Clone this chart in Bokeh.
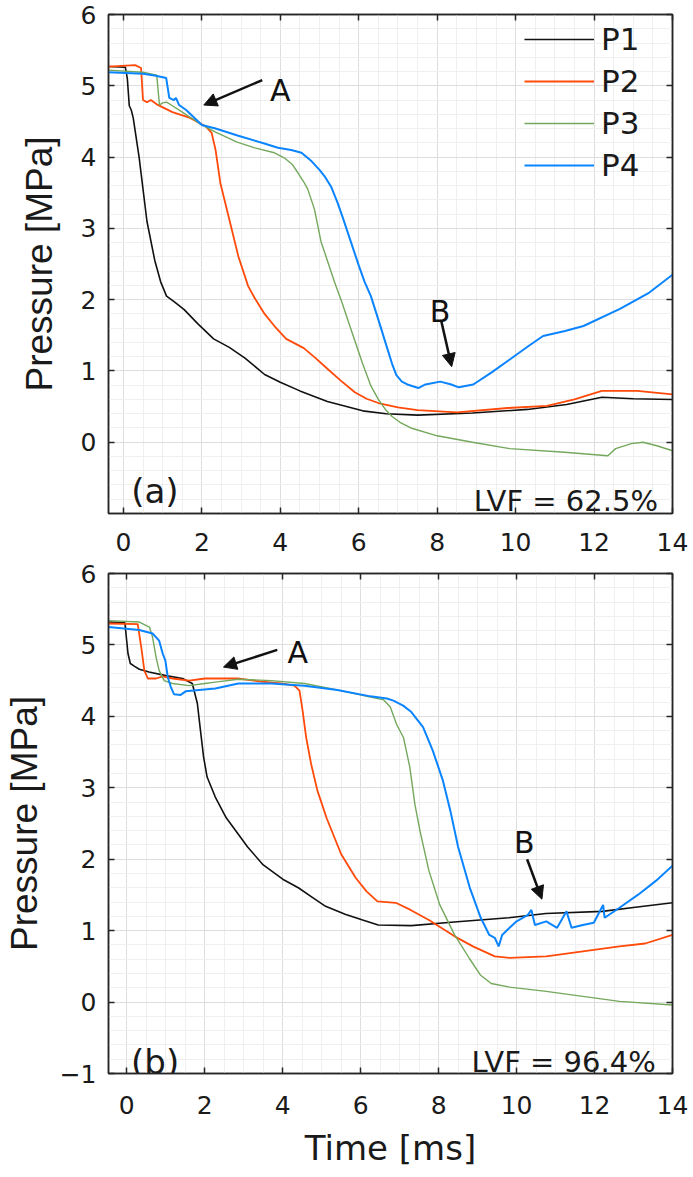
from bokeh.plotting import figure
from bokeh.models import (Range1d, FixedTicker, LinearAxis, Legend, LegendItem,
                          Arrow, NormalHead)
from bokeh.layouts import column
from bokeh.embed import file_html
from bokeh.resources import INLINE
from bokeh.core.properties import value

# ---------------- data: panel (a), LVF = 62.5% ----------------
a_t_p1 = [-0.38, 0.05, 0.1, 0.15, 0.2, 0.25, 0.4, 0.6, 0.8, 0.95, 1.1, 1.3, 1.55, 1.9, 2.3,
          2.7, 3.1, 3.6, 4.0, 4.5, 5.2, 6.1, 6.7, 7.5, 8.9, 10.3, 11.3, 12.2, 13.0, 14.0]
a_p1 = [5.27, 5.26, 5.1, 4.72, 4.66, 4.55, 4.0, 3.1, 2.55, 2.25, 2.05, 1.97, 1.86, 1.66, 1.45,
        1.33, 1.18, 0.95, 0.84, 0.72, 0.57, 0.44, 0.40, 0.38, 0.41, 0.46, 0.53, 0.63, 0.61, 0.60]

a_t_p2 = [-0.38, 0.3, 0.45, 0.5, 0.6, 0.7, 0.85, 1.25, 1.7, 2.1, 2.25, 2.35, 2.47, 2.68, 2.93,
          3.18, 3.35, 3.6, 3.85, 4.15, 4.6, 4.9, 5.2, 5.55, 5.9, 6.2, 6.5, 7.0, 7.5, 8.5, 9.8,
          10.8, 11.5, 12.2, 13.1, 14.0]
a_p2 = [5.27, 5.29, 5.25, 4.8, 4.77, 4.8, 4.74, 4.63, 4.55, 4.43, 4.34, 4.1, 3.64, 3.17, 2.61,
        2.19, 2.02, 1.80, 1.63, 1.45, 1.32, 1.18, 1.03, 0.86, 0.70, 0.61, 0.55, 0.49, 0.45, 0.42,
        0.48, 0.51, 0.60, 0.72, 0.72, 0.67]

a_t_p3 = [-0.38, 0.5, 0.85, 0.92, 1.0, 1.1, 1.25, 1.5, 2.0, 2.35, 2.9, 3.35, 3.85, 4.1, 4.3,
          4.45, 4.6, 4.7, 4.87, 5.04, 5.2, 5.38, 5.56, 5.75, 5.94, 6.1, 6.31, 6.5, 6.68, 6.85,
          7.05, 7.33, 8.0, 8.9, 9.85, 11.25, 12.35, 12.55, 12.95, 13.25, 13.6, 14.0]
a_p3 = [5.22, 5.19, 5.15, 4.73, 4.76, 4.77, 4.72, 4.63, 4.45, 4.35, 4.21, 4.13, 4.06, 3.99, 3.90,
        3.78, 3.65, 3.55, 3.27, 2.81, 2.55, 2.25, 1.98, 1.67, 1.36, 1.10, 0.79, 0.60, 0.46, 0.36,
        0.28, 0.20, 0.09, 0.0, -0.09, -0.14, -0.19, -0.09, -0.02, 0.0, -0.05, -0.12]

a_t_p4 = [-0.38, 0.5, 0.83, 1.09, 1.17, 1.29, 1.34, 1.42, 1.6, 2.0, 2.35, 2.93, 3.53, 3.94, 4.28,
          4.54, 4.8, 5.0, 5.13, 5.3, 5.46, 5.6, 5.8, 6.0, 6.15, 6.31, 6.5, 6.68, 6.85, 6.96, 7.1,
          7.24, 7.52, 7.7, 8.08, 8.36, 8.55, 8.92, 9.39, 9.85, 10.33, 10.7, 11.26, 11.73, 12.66,
          13.41, 14.0]
a_p4 = [5.19, 5.17, 5.14, 5.11, 4.83, 4.80, 4.83, 4.73, 4.66, 4.45, 4.40, 4.30, 4.20, 4.13, 4.10,
        4.06, 3.94, 3.82, 3.73, 3.58, 3.36, 3.14, 2.81, 2.48, 2.25, 2.05, 1.72, 1.40, 1.10, 0.94,
        0.85, 0.81, 0.76, 0.81, 0.85, 0.81, 0.77, 0.81, 0.98, 1.16, 1.35, 1.49, 1.56, 1.63, 1.87,
        2.10, 2.35]

# ---------------- data: panel (b), LVF = 96.4% ----------------
b_t_p1 = [-0.47, -0.05, 0.03, 0.09, 0.2, 0.32, 0.57, 1.0, 1.43, 1.68, 1.81, 1.89, 1.97, 2.06,
          2.27, 2.55, 3.1, 3.5, 4.0, 4.4, 4.75, 5.1, 5.6, 6.05, 6.45, 7.3, 8.4, 9.8, 10.75, 12.2,
          13.1, 14.0]
b_p1 = [5.32, 5.31, 4.88, 4.74, 4.70, 4.66, 4.62, 4.57, 4.53, 4.46, 4.18, 3.80, 3.43, 3.15,
        2.87, 2.58, 2.17, 1.92, 1.72, 1.60, 1.47, 1.34, 1.23, 1.15, 1.08, 1.07, 1.12, 1.18, 1.24,
        1.27, 1.33, 1.39]

b_t_p2 = [-0.47, 0.28, 0.37, 0.45, 0.54, 0.75, 0.92, 1.17, 1.6, 2.0, 2.45, 2.85, 3.4, 3.96, 4.3,
          4.43, 4.51, 4.6, 4.73, 4.89, 5.13, 5.5, 5.87, 6.15, 6.43, 6.9, 7.28, 7.75, 8.41, 8.88,
          9.44, 9.82, 10.76, 11.7, 12.64, 13.3, 14.0]
b_p2 = [5.30, 5.29, 4.97, 4.64, 4.53, 4.53, 4.56, 4.53, 4.50, 4.53, 4.53, 4.53, 4.49, 4.46, 4.43,
        4.36, 4.08, 3.71, 3.33, 2.96, 2.57, 2.07, 1.74, 1.55, 1.41, 1.39, 1.29, 1.15, 0.92, 0.78,
        0.64, 0.62, 0.64, 0.71, 0.78, 0.82, 0.94]

b_t_p3 = [-0.47, 0.32, 0.58, 0.66, 0.75, 0.83, 0.96, 1.17, 1.6, 2.0, 2.27, 2.86, 3.71, 4.56, 5.4,
          6.25, 6.59, 6.76, 6.92, 7.1, 7.26, 7.39, 7.52, 7.75, 8.03, 8.41, 8.79, 9.07, 9.35, 9.82,
          10.76, 11.7, 12.64, 14.0]
b_p3 = [5.34, 5.32, 5.25, 5.11, 4.83, 4.64, 4.50, 4.46, 4.43, 4.46, 4.48, 4.52, 4.50, 4.46, 4.37,
        4.27, 4.23, 4.13, 3.89, 3.70, 3.29, 2.77, 2.40, 1.84, 1.36, 0.94, 0.61, 0.38, 0.26, 0.21,
        0.15, 0.08, 0.01, -0.04]

b_t_p4 = [-0.47, 0.32, 0.66, 0.83, 0.92, 0.99, 1.05, 1.13, 1.21, 1.38, 1.51, 1.85, 2.27, 2.86,
          3.71, 4.56, 5.4, 6.25, 6.67, 6.84, 7.09, 7.3, 7.6, 7.85, 8.11, 8.3, 8.5, 8.8, 9.08, 9.3,
          9.44, 9.54, 9.63, 9.82, 10.0, 10.29, 10.38, 10.47, 10.76, 11.04, 11.28, 11.41, 11.7,
          11.98, 12.22, 12.26, 12.64, 13.11, 13.58, 14.0]
b_p4 = [5.25, 5.21, 5.16, 5.06, 4.88, 4.78, 4.55, 4.41, 4.31, 4.30, 4.35, 4.37, 4.39, 4.46,
        4.46, 4.43, 4.37, 4.28, 4.25, 4.22, 4.15, 4.06, 3.85, 3.52, 3.10, 2.68, 2.17, 1.60, 1.18,
        0.94, 0.90, 0.78, 0.94, 1.04, 1.13, 1.22, 1.29, 1.08, 1.13, 1.04, 1.27, 1.04, 1.08,
        1.11, 1.36, 1.18, 1.32, 1.50, 1.70, 1.91]

series_names = ["P1", "P2", "P3", "P4"]
series_colors = ["#111111", "#ff4a0a", "#74a85c", "#0a84ff"]
series_widths = [1.6, 1.8, 1.4, 2.0]

x_major_ticks = [0, 2, 4, 6, 8, 10, 12, 14]
a_y_ticks = [0, 1, 2, 3, 4, 5, 6]
b_y_ticks = [-1, 0, 1, 2, 3, 4, 5, 6]

FONT = "DejaVu Sans"
YFONT = "Liberation Sans"
AXC = "#262626"
TXT = "#1a1a1a"


def make_panel(height, border_top, border_bottom, xr, yr, yticks, data, tag, lvf,
               a_lbl, a_arrow, b_lbl, b_arrow, xlabel, xstandoff, ylstandoff, legend):
    p = figure(width=693, height=height, output_backend="svg", toolbar_location=None,
               x_range=Range1d(*xr), y_range=Range1d(*yr),
               min_border_left=102, min_border_right=21,
               min_border_top=border_top, min_border_bottom=border_bottom)
    p.background_fill_color = "white"
    p.border_fill_color = "white"
    p.outline_line_color = AXC
    p.outline_line_width = 1.5

    xminor = [(-0.5 + 0.5 * i) for i in range(30)]
    yminor = [(-1 + 0.2 * i) for i in range(36)]
    xt = FixedTicker(ticks=x_major_ticks, minor_ticks=xminor)
    yt = FixedTicker(ticks=yticks, minor_ticks=yminor)
    p.xaxis.ticker = xt
    p.yaxis.ticker = yt

    for ax in (p.xaxis[0], p.yaxis[0]):
        ax.major_tick_in = 6
        ax.major_tick_out = 0
        ax.minor_tick_in = 0
        ax.minor_tick_out = 0
        ax.axis_line_color = AXC
        ax.axis_line_width = 1.5
        ax.major_tick_line_color = AXC
        ax.major_tick_line_width = 1.5
        ax.major_label_text_font = FONT
        ax.major_label_text_font_size = "25px"
        ax.major_label_text_color = TXT
    p.xaxis[0].major_label_standoff = xstandoff
    p.yaxis[0].major_label_standoff = 12
    p.yaxis[0].axis_label = "Pressure [MPa]"
    p.yaxis[0].axis_label_text_font = YFONT
    p.yaxis[0].axis_label_text_font_size = "37px"
    p.yaxis[0].axis_label_text_font_style = "normal"
    p.yaxis[0].axis_label_text_color = TXT
    p.yaxis[0].axis_label_standoff = ylstandoff
    if xlabel:
        p.xaxis[0].axis_label = "Time [ms]"
        p.xaxis[0].axis_label_text_font = FONT
        p.xaxis[0].axis_label_text_font_size = "34px"
        p.xaxis[0].axis_label_text_font_style = "normal"
        p.xaxis[0].axis_label_text_color = TXT
        p.xaxis[0].axis_label_standoff = 11

    # box-style inward ticks on top and right
    for loc, tk in (("above", xt), ("right", yt)):
        ax = LinearAxis(ticker=tk, major_label_text_font_size="0px", major_label_standoff=0,
                        major_tick_in=6, major_tick_out=0, minor_tick_in=0, minor_tick_out=0,
                        axis_line_color=AXC, axis_line_width=1.5,
                        major_tick_line_color=AXC, major_tick_line_width=1.5)
        p.add_layout(ax, loc)

    for g in (p.xgrid, p.ygrid):
        g.grid_line_color = "#dedede"
        g.grid_line_width = 1
        g.minor_grid_line_color = "#efefef"
        g.minor_grid_line_width = 1

    renderers = []
    for (tx, py), c, w in zip(data, series_colors, series_widths):
        r = p.line(tx, py, line_color=c, line_width=w)
        renderers.append(r)

    if legend:
        lg = Legend(items=[LegendItem(label=n, renderers=[r]) for n, r in zip(series_names, renderers)],
                    location=(416, 330), orientation="vertical",
                    padding=0, margin=0, spacing=6,
                    glyph_width=70, glyph_height=36, label_height=36, label_standoff=7,
                    label_text_font=FONT, label_text_font_size="31px",
                    label_text_color=TXT,
                    border_line_color=None, background_fill_alpha=0)
        p.add_layout(lg)

    p.text(x=[tag[0]], y=[tag[1]], text=[tag[2]], text_font=value(FONT),
           text_font_size="34px", text_align="left", text_baseline="alphabetic",
           text_color=TXT)
    p.text(x=[lvf[0]], y=[lvf[1]], text=[lvf[2]], text_font=value(FONT),
           text_font_size="29px", text_align="right", text_baseline="alphabetic",
           text_color=TXT)
    p.text(x=[a_lbl[0]], y=[a_lbl[1]], text=["A"], text_font=value(FONT),
           text_font_size="30px", text_align="left", text_baseline="alphabetic",
           text_color="#111111")
    p.text(x=[b_lbl[0]], y=[b_lbl[1]], text=["B"], text_font=value(FONT),
           text_font_size="30px", text_align="center", text_baseline="alphabetic",
           text_color="#111111")
    for (xs, ys, xe, ye) in (a_arrow, b_arrow):
        p.add_layout(Arrow(end=NormalHead(size=13, fill_color="#111111", line_color="#111111"),
                           x_start=xs, y_start=ys, x_end=xe, y_end=ye,
                           line_color="#111111", line_width=2.5))
    return p


p1 = make_panel(562, 14, 49, (-0.38, 14), (-1, 6), a_y_ticks,
                [(a_t_p1, a_p1), (a_t_p2, a_p2), (a_t_p3, a_p3), (a_t_p4, a_p4)],
                (0.2, -0.68, "(a)"), (13.63, -0.82, "LVF = 62.5%"),
                (3.74, 4.94), (3.54, 5.08, 2.05, 4.73),
                (8.07, 1.84), (8.1, 1.71, 8.37, 1.06),
                False, 19, 18, True)

p2 = make_panel(615, 11, 104, (-0.47, 14), (-1, 6), b_y_ticks,
                [(b_t_p1, b_p1), (b_t_p2, b_p2), (b_t_p3, b_p3), (b_t_p4, b_p4)],
                (0.11, -0.84, "(b)"), (13.57, -0.84, "LVF = 96.4%"),
                (4.12, 4.89), (3.86, 4.93, 2.48, 4.69),
                (10.2, 2.24), (10.27, 2.0, 10.65, 1.44),
                True, 22, 12, False)

layout = column(p1, p2, spacing=0)
open("out.html", "w").write(file_html(layout, INLINE))
